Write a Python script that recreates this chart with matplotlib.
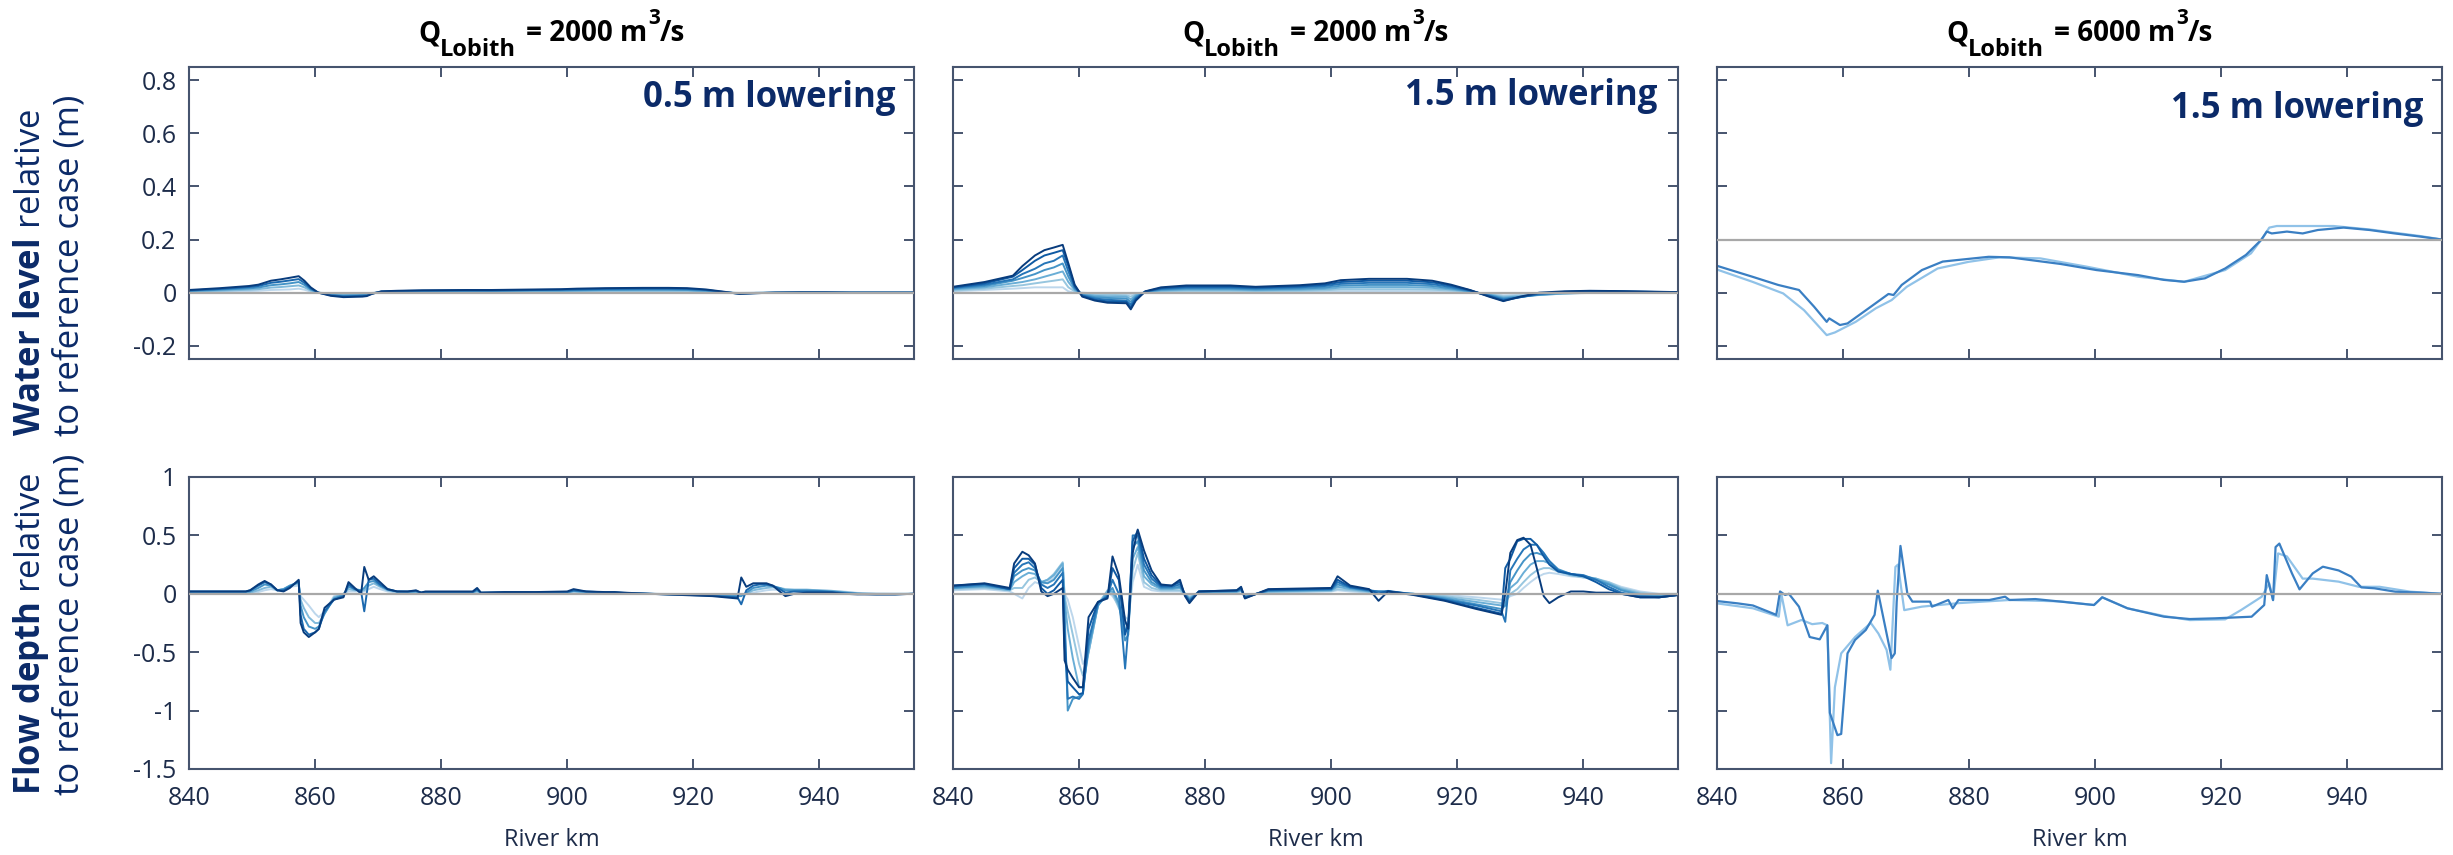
import numpy as np
import matplotlib
matplotlib.use("Agg")
import matplotlib.pyplot as plt

plt.rcParams['font.family'] = ['Open Sans', 'DejaVu Sans']
plt.rcParams['mathtext.fontset'] = 'custom'
plt.rcParams['mathtext.rm'] = 'Open Sans'
plt.rcParams['mathtext.bf'] = 'Open Sans:bold'
plt.rcParams['mathtext.it'] = 'Open Sans:italic'
plt.rcParams['axes.unicode_minus'] = False

# ---------------------------------------------------------------- data
DISCHARGES = ["2000", "2000", "6000"]
LOWERING = ["0.5 m lowering", "1.5 m lowering", "1.5 m lowering"]
XTICKS = [840, 860, 880, 900, 920, 940]
YTICKS_WL = [-0.2, 0, 0.2, 0.4, 0.6, 0.8]
YTICKS_D = [-1.5, -1, -0.5, 0, 0.5, 1]

# river km grid for the water-level runs (columns 1 and 2)
KM_WL = [840, 845, 849.5, 851, 853, 854.5, 856, 857.4, 858.3, 859.3, 860.5, 862.5,
         864.5, 867.5, 868.2, 869, 870.5, 873, 877, 884, 888, 895, 899, 901.5,
         906, 912, 916, 919, 922, 925, 927.3, 930, 933, 937, 941, 945, 950, 955]

# water level change, 0.5 m lowering, Q = 2000 (light -> dark runs)
WL1 = [
    [.002, .004, .006, .007, .01, .011, .012, .015, .011, .004, 0, -.003, -.004, -.003, -.003, -.001, .001, .002, .002,
     .002, .002, .003, .003, .003, .004, .004, .004, .004, .003, .001, -.001, 0, 0, 0, 0, 0, 0, 0],
    [.004, .007, .011, .013, .019, .021, .024, .027, .02, .008, 0, -.005, -.007, -.006, -.005, -.002, .002, .003, .004,
     .004, .004, .005, .005, .006, .007, .007, .007, .007, .005, .001, -.002, -.001, 0, 0, 0, 0, 0, 0],
    [.006, .011, .016, .019, .028, .031, .035, .04, .029, .012, 0, -.008, -.011, -.009, -.008, -.003, .003, .005, .006,
     .006, .006, .008, .008, .009, .01, .011, .011, .01, .007, .001, -.003, -.001, 0, .001, 0, 0, 0, 0],
    [.008, .014, .021, .025, .037, .041, .046, .051, .037, .016, 0, -.01, -.014, -.012, -.011, -.004, .004, .006, .007,
     .008, .008, .01, .011, .012, .014, .015, .015, .014, .01, .002, -.004, -.002, 0, .001, .001, 0, 0, 0],
    [.01, .017, .025, .03, .045, .05, .056, .062, .045, .02, 0, -.012, -.017, -.015, -.013, -.005, .005, .007, .009,
     .01, .01, .012, .013, .015, .017, .018, .018, .017, .012, .003, -.005, -.002, 0, .001, .001, 0, 0, 0],
]

# water level change, 1.5 m lowering, Q = 2000 (light -> dark runs)
WL2 = [
    [.005, .01, .015, .017, .02, .02, .02, .02, .005, 0, 0, -.003, -.003, -.004, -.006, -.002, 0, .002, .003,
     .003, .003, .003, .004, .005, .006, .006, .005, .004, .001, -.003, -.01, -.008, -.006, -.004, -.001, 0, 0, 0],
    [.008, .015, .025, .028, .035, .04, .045, .05, .02, .005, -.003, -.007, -.008, -.01, -.015, -.006, .001, .005, .007,
     .007, .006, .007, .009, .012, .013, .013, .011, .008, .002, -.005, -.014, -.011, -.008, -.004, 0, .001, .001, 0],
    [.012, .02, .035, .04, .05, .06, .07, .08, .04, .01, -.005, -.012, -.014, -.015, -.025, -.01, .002, .008, .011,
     .011, .009, .011, .014, .019, .021, .021, .018, .012, .004, -.007, -.018, -.014, -.009, -.003, .001, .002, .001, .001],
    [.015, .025, .045, .055, .07, .085, .095, .11, .06, .015, -.008, -.017, -.02, -.022, -.035, -.015, .003, .011, .015,
     .015, .012, .015, .019, .026, .029, .029, .025, .016, .005, -.009, -.022, -.016, -.008, -.001, .003, .003, .002, .001],
    [.018, .03, .05, .07, .09, .11, .12, .14, .08, .02, -.01, -.022, -.027, -.03, -.045, -.02, .004, .014, .019,
     .019, .016, .02, .025, .033, .037, .037, .032, .021, .007, -.011, -.026, -.017, -.006, .001, .004, .004, .003, .001],
    [.02, .035, .06, .085, .12, .14, .15, .16, .1, .025, -.012, -.027, -.033, -.035, -.055, -.025, .004, .017, .023,
     .023, .019, .024, .03, .04, .045, .045, .039, .026, .009, -.013, -.03, -.017, -.003, .003, .006, .005, .003, .002],
    [.022, .04, .064, .1, .14, .16, .17, .18, .11, .03, -.015, -.03, -.038, -.04, -.063, -.03, .005, .02, .027,
     .027, .022, .028, .035, .047, .052, .052, .045, .03, .01, -.015, -.032, -.015, 0, .005, .007, .006, .004, .002],
]

# river km grid for the flow-depth runs (columns 1 and 2)
KM_D = [840, 845, 849, 849.7, 851, 852, 853, 854, 855, 856, 857.4, 857.7, 858.2, 859, 860, 860.6, 861.5, 863,
        864.5, 865.3, 866.3, 867.3, 867.8, 868.5, 869.3, 870.3, 871.5, 873, 874.7, 876, 876.8, 877.5, 879, 885,
        885.7, 886.3, 890, 895, 900, 901, 903, 906, 907.5, 909, 913, 918, 923, 927, 927.6, 928.4, 929.5, 930.5,
        931.6, 932.6, 933.7, 934.6, 936, 938, 940, 942, 944, 946, 949, 952, 955]

# flow depth change, 0.5 m lowering, Q = 2000 (light -> dark runs)
D1 = [
    [.005, .005, .005, .005, .015, .03, .04, .03, .04, .06, .07, -.02, -.05, -.1, -.17, -.2, -.15, -.02, 0, .02, .02,
     .02, .02, .04, .06, .04, .02, .01, .008, .01, .005, .006, .006, .006, .01, .004, .005, .005, .006, .01, .008,
     .005, .005, .003, 0, -.002, -.004, -.006, -.005, 0, .01, .02, .03, .035, .035, .035, .035, .035, .03, .025,
     .018, .008, .002, 0, 0],
    [.01, .01, .01, .01, .03, .05, .06, .03, .04, .07, .09, -.05, -.12, -.2, -.25, -.25, -.17, -.03, 0, .04, .03,
     .03, .03, .07, .09, .06, .03, .015, .012, .015, .008, .01, .01, .01, .02, .006, .008, .008, .01, .02, .012,
     .008, .008, .005, 0, -.004, -.008, -.012, -.01, 0, .03, .04, .05, .055, .05, .04, .035, .035, .03, .025,
     .015, .005, 0, 0, 0],
    [.015, .015, .015, .02, .05, .08, .07, .03, .04, .07, .1, -.1, -.2, -.28, -.3, -.28, -.17, -.04, -.01, .06, .04,
     .03, .05, .1, .11, .07, .035, .02, .015, .02, .01, .012, .012, .012, .03, .008, .01, .01, .012, .025, .015,
     .01, .01, .006, 0, -.006, -.012, -.02, -.02, .01, .05, .06, .07, .065, .05, .03, .03, .03, .025, .02,
     .01, 0, -.003, -.003, 0],
    [.02, .02, .02, .03, .07, .1, .08, .03, .03, .06, .11, -.18, -.3, -.35, -.33, -.3, -.15, -.05, -.02, .08, .04,
     .02, -.15, .12, .13, .08, .04, .02, .02, .025, .01, .015, .015, .015, .04, .01, .012, .012, .015, .03, .02,
     .012, .012, .008, 0, -.008, -.016, -.03, -.09, .03, .07, .08, .08, .07, .04, .01, .02, .02, .02, .015,
     .005, 0, -.005, -.005, 0],
    [.02, .02, .02, .03, .08, .11, .08, .03, .02, .05, .12, -.25, -.33, -.37, -.33, -.3, -.12, -.05, -.03, .1, .05,
     0, .23, .12, .15, .1, .04, .02, .02, .03, .01, .02, .02, .02, .05, .01, .015, .015, .02, .04, .02,
     .015, .015, .01, 0, -.01, -.02, -.04, .14, .06, .09, .09, .09, .07, .02, -.02, 0, .01, .01, .01,
     0, -.005, -.005, -.005, 0],
]

# flow depth change, 1.5 m lowering, Q = 2000 (light -> dark runs)
D2 = [
    [.03, .04, .02, 0, -.04, .05, .1, .08, .1, .14, .24, 0, -.05, -.2, -.45, -.6, -.5, -.08, .02, -.02, -.1,
     -.2, -.22, .1, .25, .06, .03, .02, .02, .02, 0, -.02, .01, .01, .02, -.01, .01, .015, .02, .03, .02,
     .01, .01, .005, 0, -.01, -.03, -.05, -.05, -.02, 0, .05, .1, .14, .17, .18, .17, .15, .14, .12,
     .1, .06, .02, 0, 0],
    [.04, .05, .03, .05, .05, .12, .14, .1, .12, .17, .27, -.02, -.15, -.35, -.6, -.7, -.5, -.1, .03, 0, -.12,
     -.25, -.28, .2, .35, .1, .05, .03, .03, .03, 0, -.03, .01, .01, .025, -.015, .015, .02, .025, .04, .03,
     .015, .01, .01, 0, -.02, -.05, -.08, -.08, 0, .04, .1, .16, .2, .22, .22, .19, .16, .14, .13,
     .1, .05, .01, -.01, 0],
    [.05, .06, .03, .1, .15, .18, .17, .1, .12, .16, .26, -.05, -.3, -.55, -.8, -.8, -.5, -.1, .02, .02, -.1,
     -.3, -.32, .3, .4, .15, .08, .04, .04, .05, 0, -.04, .015, .02, .03, -.02, .02, .025, .03, .06, .04,
     .02, .015, .015, 0, -.03, -.07, -.1, -.1, .05, .1, .18, .25, .28, .28, .26, .2, .16, .15, .13,
     .09, .04, 0, -.02, -.01],
    [.05, .07, .04, .15, .2, .22, .2, .1, .09, .12, .22, -.15, -1.0, -.9, -.88, -.85, -.45, -.1, 0, .05, -.08,
     -.4, -.35, .4, .45, .2, .1, .05, .05, .06, 0, -.05, .015, .02, .035, -.025, .025, .03, .035, .08, .05,
     .025, .02, .02, 0, -.04, -.09, -.13, -.1, .1, .2, .28, .34, .35, .33, .28, .21, .17, .15, .12,
     .08, .03, -.01, -.02, -.01],
    [.06, .08, .04, .18, .25, .27, .22, .08, .05, .08, .18, -.3, -.9, -.88, -.9, -.86, -.4, -.08, -.02, .12, 0,
     -.64, -.3, .5, .5, .25, .13, .06, .06, .08, -.01, -.06, .02, .025, .04, -.03, .03, .035, .04, .1, .055,
     .03, .02, .02, -.005, -.05, -.1, -.15, -.24, .2, .3, .38, .42, .42, .35, .28, .2, .17, .16, .12,
     .06, .01, -.02, -.03, -.01],
    [.07, .085, .04, .22, .3, .3, .25, .05, 0, .03, .12, -.45, -.75, -.8, -.86, -.85, -.3, -.07, -.03, .22, .12,
     -.35, -.25, .45, .54, .3, .16, .07, .07, .1, -.01, -.07, .02, .03, .05, -.035, .035, .04, .045, .12, .06,
     .035, 0, .025, -.005, -.055, -.12, -.17, .22, .3, .45, .47, .47, .42, .32, .25, .19, .17, .15, .1,
     .04, 0, -.03, -.03, -.01],
    [.07, .09, .05, .26, .36, .33, .26, .02, -.02, 0, .05, -.57, -.65, -.72, -.8, -.8, -.2, -.07, -.04, .32, .16,
     -.23, -.3, .35, .55, .37, .2, .08, .07, .12, -.02, -.08, .02, .03, .06, -.04, .04, .045, .05, .15, .07,
     .04, -.06, .02, -.01, -.06, -.13, -.18, 0, .35, .46, .48, .42, .22, -.02, -.08, -.03, .02, .02, .01,
     .01, 0, -.03, -.03, -.01],
]

# Q = 6000 runs: water level change (two schedules)
KM_WL3_A = [840, 845.6, 849.7, 853, 855.4, 857.4, 857.8, 859.5, 860.7, 864.4, 867.2, 868, 869.3, 872.5, 875.8,
            878.2, 883.1, 886.4, 894.5, 900.2, 906.8, 910.9, 914.1, 917.4, 920.6, 923.9, 926.3, 927.2, 928,
            930.4, 932.9, 935.3, 939.4, 943.5, 947.5, 951.6, 955]
WL3_A = [-0.099, -0.14, -0.171, -0.19, -0.253, -0.31, -0.297, -0.322, -0.316, -0.253, -0.205, -0.209, -0.171,
         -0.115, -0.083, -0.077, -0.065, -0.067, -0.092, -0.115, -0.134, -0.152, -0.159, -0.146, -0.109, -0.058,
         -0.002, 0.03, 0.023, 0.03, 0.023, 0.036, 0.045, 0.036, 0.023, 0.011, 0.0]
KM_WL3_B = [840, 845.6, 850.5, 853.8, 857.4, 858.7, 862, 865.2, 867.7, 870.1, 875, 879.9, 884.8, 891.3, 898.6,
            906.8, 914.1, 920.6, 924.7, 926.7, 927.6, 928.8, 933.7, 937.8, 943.5, 951.6, 955]
WL3_B = [-0.113, -0.159, -0.203, -0.266, -0.36, -0.35, -0.31, -0.259, -0.228, -0.178, -0.109, -0.084, -0.067,
         -0.071, -0.102, -0.14, -0.159, -0.115, -0.052, 0.011, 0.045, 0.051, 0.051, 0.051, 0.038, 0.013, 0.0]

# Q = 6000 runs: flow depth change (two schedules)
KM_D3_A = [840, 843.3, 845.7, 849.4, 850, 850.8, 851.4, 853, 854.7, 856.3, 857.5, 857.9, 859.1, 859.7, 860.7,
           861.9, 863.6, 865, 865.5, 866.9, 867.7, 868.2, 868.5, 869.1, 870.2, 871, 873.8, 874.1, 876.7, 877.4,
           878.3, 883.2, 885.7, 886.4, 890.5, 899.8, 901.1, 905.1, 910.9, 915, 919, 924.8, 926.8, 927.2, 928.2,
           928.6, 929.2, 931.2, 932.4, 934.5, 936.1, 938.6, 940.6, 942.2, 944.3, 947.6, 951.6, 955]
D3_A = [-0.062, -0.082, -0.1, -0.18, 0.02, -0.01, 0.0, -0.11, -0.37, -0.39, -0.27, -1.02, -1.21, -1.2, -0.51,
        -0.395, -0.31, -0.18, 0.027, -0.34, -0.55, -0.51, -0.07, 0.41, 0.0, -0.067, -0.067, -0.11, -0.053, -0.124,
        -0.053, -0.053, -0.025, -0.053, -0.045, -0.096, -0.03, -0.124, -0.196, -0.216, -0.21, -0.196, -0.096,
        0.16, -0.054, 0.4, 0.43, 0.175, 0.038, 0.175, 0.232, 0.2, 0.147, 0.055, 0.047, 0.018, 0.01, 0.0]
KM_D3_B = [840, 845.7, 849.8, 850.2, 851.2, 853.4, 855.1, 856.7, 857.5, 858.1, 858.7, 859.7, 861.9, 864.4, 865.6,
           866.9, 867.5, 868.3, 868.7, 869.7, 872.5, 878.3, 886.4, 894.5, 899.8, 901.1, 905.1, 910.9, 915, 920.6,
           923.1, 926.4, 927.6, 928.2, 929, 930.4, 932.9, 934.5, 938.6, 941.8, 945.1, 950, 955]
D3_B = [-0.082, -0.124, -0.196, 0.0, -0.27, -0.224, -0.26, -0.25, -0.27, -1.45, -0.8, -0.51, -0.37, -0.25, -0.34,
        -0.48, -0.65, 0.23, 0.25, -0.14, -0.11, -0.08, -0.053, -0.065, -0.096, -0.03, -0.124, -0.19, -0.225, -0.219,
        -0.14, -0.025, 0.09, -0.054, 0.346, 0.32, 0.13, 0.13, 0.104, 0.06, 0.06, 0.018, 0.0]

# ---------------------------------------------------------------- style
NAVY = '#0b2a68'
SPINE = '#46546e'
TICKC = '#1d2c4a'
ZERO = '#a8a8a8'
BLUE_A = '#3a7fc3'
BLUE_B = '#90c2e8'

W, H = 2453, 855
fig = plt.figure(figsize=(W / 100, H / 100), dpi=100)
renderer = fig.canvas.get_renderer()

col_left = [189, 953, 1717]
ax_w = 725
row_top = [67, 477]
ax_h = 292


def make_axes(col, row):
    return fig.add_axes([col_left[col] / W, 1 - (row_top[row] + ax_h) / H, ax_w / W, ax_h / H])


def style(ax, yticks, ylim, xlab, ylab):
    ax.set_xlim(840, 955)
    ax.set_ylim(*ylim)
    ax.set_xticks(XTICKS)
    ax.set_yticks(yticks)
    ax.set_xticklabels([f'{v:g}' for v in XTICKS] if xlab else [])
    ax.set_yticklabels([f'{v:g}' for v in yticks] if ylab else [])
    ax.tick_params(direction='in', length=7, width=1.4, color=SPINE, labelcolor=TICKC,
                   labelsize=18, top=True, right=True)
    ax.tick_params(axis='x', pad=12)
    ax.tick_params(axis='y', pad=9)
    for s in ax.spines.values():
        s.set_color(SPINE)
        s.set_linewidth(1.5)


def fan(ax, km, runs):
    cmap = plt.get_cmap('Blues')
    shades = np.linspace(0.28, 0.95, len(runs))
    for run, sh in zip(runs, shades):
        ax.plot(km, run, color=cmap(sh), lw=1.4, zorder=2)


def title_row(xc_px, base_px, parts):
    """Lay out a run of text pieces (string, size, baseline shift px, gap px) centred on xc_px."""
    items = []
    for s, size, dy, gap in parts:
        t = fig.text(0, 0, s, fontsize=size, fontweight='bold', color='black', ha='left', va='baseline')
        items.append((t, dy, gap, t.get_window_extent(renderer).width))
    total = sum(w + g for _, _, g, w in items)
    x = xc_px - total / 2
    for t, dy, gap, w in items:
        x += gap
        t.set_position((x / W, 1 - (base_px + dy) / H))
        x += w


axes = [[make_axes(c, r) for c in range(3)] for r in range(2)]

# water level row
fan(axes[0][0], KM_WL, WL1)
fan(axes[0][1], KM_WL, WL2)
axes[0][2].plot(KM_WL3_B, WL3_B, color=BLUE_B, lw=1.6, zorder=2)
axes[0][2].plot(KM_WL3_A, WL3_A, color=BLUE_A, lw=1.6, zorder=2)

# flow depth row
fan(axes[1][0], KM_D, D1)
fan(axes[1][1], KM_D, D2)
axes[1][2].plot(KM_D3_B, D3_B, color=BLUE_B, lw=1.6, zorder=2)
axes[1][2].plot(KM_D3_A, D3_A, color=BLUE_A, lw=1.6, zorder=2)

for c in range(3):
    if c < 2:
        style(axes[0][c], YTICKS_WL, (-0.25, 0.85), False, c == 0)
    else:
        # Q = 6000 panel is offset so its zero sits at the 0.2 grid position
        style(axes[0][c], [v - 0.2 for v in YTICKS_WL], (-0.45, 0.65), False, False)
    style(axes[1][c], YTICKS_D, (-1.5, 1.0), True, c == 0)
    for r in range(2):
        axes[r][c].axhline(0, color=ZERO, lw=1.6, zorder=3)

# lowering annotations
lower_pos = [(0.974, 0.863), (0.971, 0.870), (0.974, 0.825)]
for c in range(3):
    x, y = lower_pos[c]
    axes[0][c].text(x, y, LOWERING[c], transform=axes[0][c].transAxes, ha='right', va='baseline',
                    fontsize=25, fontweight='bold', color=NAVY)

# column titles and x labels
for c in range(3):
    xc = col_left[c] + ax_w / 2
    title_row(xc, 41, [("Q", 20, 0, 0), ("Lobith", 17, 15, 0),
                       ("= " + DISCHARGES[c] + " m", 20, 0, 10), ("3", 15, -17, 1), ("/s", 20, 0, 0)])
    fig.text(xc / W, 1 - 846 / H, 'River km', ha='center', va='baseline', fontsize=17, color=TICKC)

# row labels
for y_bot, bold in [(436, 'Water\\ level'), (795, 'Flow\\ depth')]:
    fig.text(31 / W, 1 - y_bot / H, r'$\mathbf{' + bold + '}$ relative', rotation=90,
             ha='center', va='bottom', fontsize=25, color=NAVY)
    fig.text(70 / W, 1 - y_bot / H, 'to reference case (m)', rotation=90,
             ha='center', va='bottom', fontsize=25, color=NAVY)

fig.savefig('out.png', dpi=100)
